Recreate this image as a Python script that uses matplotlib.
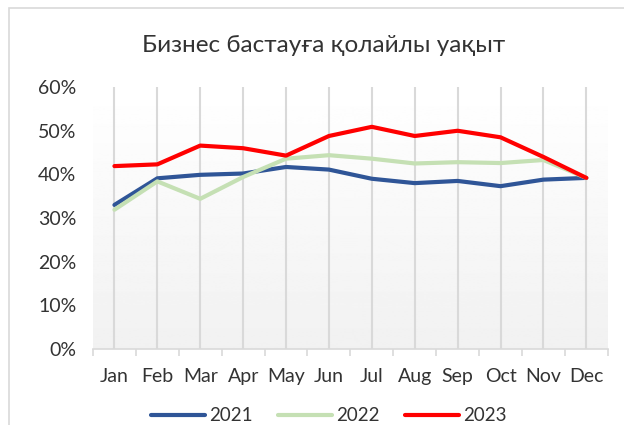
import numpy as np
import matplotlib.pyplot as plt
from matplotlib.patches import Rectangle
from matplotlib.ticker import PercentFormatter

plt.rcParams['font.family'] = ['Lato', 'DejaVu Sans']

months = ["Jan", "Feb", "Mar", "Apr", "May", "Jun",
          "Jul", "Aug", "Sep", "Oct", "Nov", "Dec"]
y2021 = [33.0, 39.1, 39.9, 40.2, 41.7, 41.1, 39.0, 38.0, 38.5, 37.3, 38.8, 39.2]
y2022 = [31.9, 38.4, 34.4, 39.4, 43.6, 44.4, 43.6, 42.5, 42.8, 42.6, 43.3, 39.2]
y2023 = [41.9, 42.3, 46.6, 46.0, 44.3, 48.8, 50.9, 48.8, 50.0, 48.5, 44.0, 39.2]
series = [("2021", y2021, "#2f5597"),
          ("2022", y2022, "#c5e0b4"),
          ("2023", y2023, "#ff0000")]

fig = plt.figure(figsize=(6.24, 4.25), dpi=100)
ax = fig.add_axes([0.149, 0.179, 0.825, 0.616])

# frame of the chart (cut off on the right and bottom)
fig.patches.append(Rectangle((0.015, -0.1), 2, 1.081, transform=fig.transFigure,
                             fill=False, edgecolor="#d9d9d9", lw=1.2))

# gradient background of the plot area
grad = np.linspace(1.0, 0.945, 256).reshape(-1, 1)
ax.imshow(grad, cmap="gray", vmin=0, vmax=1, aspect="auto",
          extent=[0, 1, 0, 1], transform=ax.transAxes, zorder=0)

x = np.arange(len(months))
for xi in x:
    ax.axvline(xi, color="#d9d9d9", lw=1.5, zorder=1)

for name, vals, col in series:
    ax.plot(x, np.array(vals) / 100, color=col, lw=3, label=name,
            solid_capstyle="round", zorder=3)

ax.set_xlim(-0.5, 11.5)
ax.set_ylim(0, 0.6)
ax.set_yticks(np.arange(0, 0.61, 0.1))
ax.yaxis.set_major_formatter(PercentFormatter(1.0, decimals=0))
ax.set_xticks(x)
ax.set_xticklabels(months)
ax.set_xticks(np.arange(-0.5, 12, 1), minor=True)
ax.tick_params(axis="x", which="major", length=0, pad=14, labelsize=14, colors="#333333")
ax.tick_params(axis="x", which="minor", length=5, color="#d9d9d9", width=1.2)
ax.tick_params(axis="y", length=0, pad=12, labelsize=14, colors="#333333")

for s in ["top", "right", "left"]:
    ax.spines[s].set_visible(False)
ax.spines["bottom"].set_color("#d9d9d9")
ax.spines["bottom"].set_linewidth(1.2)

fig.text(0.518, 0.893, "Бизнес бастауға қолайлы уақыт", ha="center", va="center",
         fontsize=17.5, color="#333333")

fig.legend(loc="center", bbox_to_anchor=(0.527, 0.022), ncol=3, frameon=False,
           fontsize=13.5, handlelength=2.9, columnspacing=1.35, handletextpad=0.2,
           labelcolor="#333333")

fig.savefig("out.png", dpi=100)
